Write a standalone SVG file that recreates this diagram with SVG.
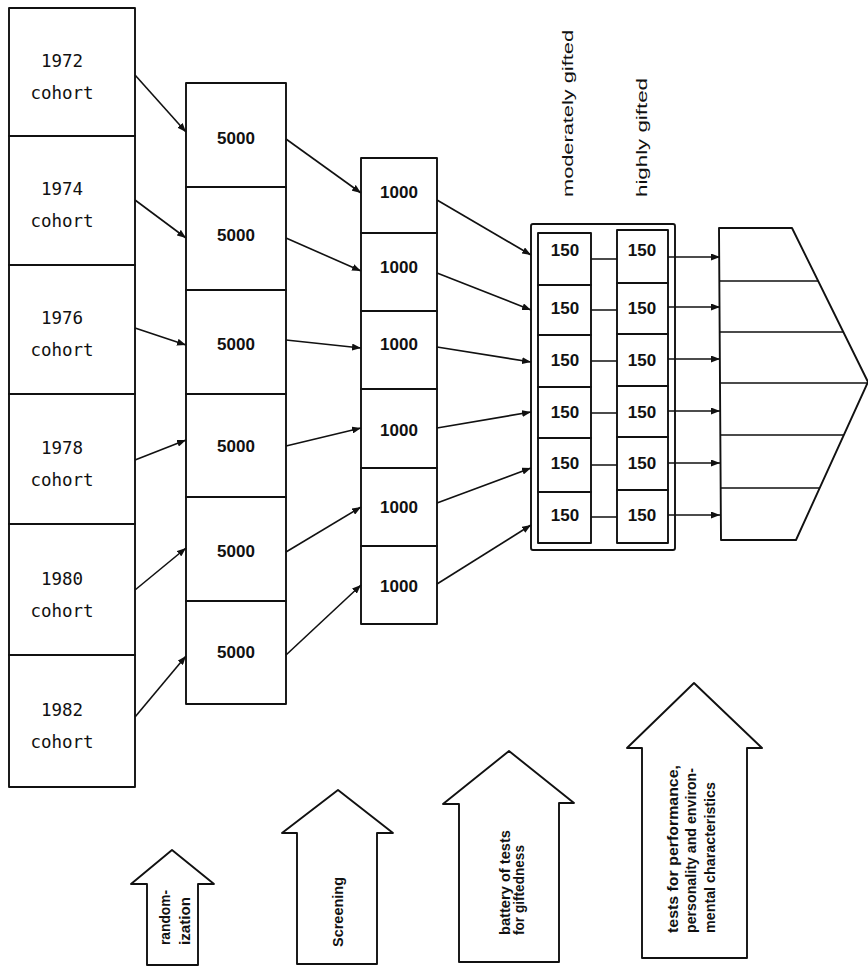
<svg xmlns="http://www.w3.org/2000/svg" width="868" height="966" viewBox="0 0 868 966">
<style>
.b{fill:#fff;stroke:#111;stroke-width:1.9;stroke-linejoin:round}
.c{stroke:#111;stroke-width:1.6;fill:none}
.coh{font-family:"DejaVu Sans Mono","Liberation Mono",monospace;font-size:17.5px;fill:#111;text-anchor:middle}
.num{font-family:"Liberation Sans",Arial,sans-serif;font-size:17px;font-weight:bold;fill:#111;text-anchor:middle}
.lab{font-family:"Liberation Sans",Arial,sans-serif;font-size:15.5px;fill:#111}
.bt{font-family:"Liberation Sans",Arial,sans-serif;font-size:14px;font-weight:bold;fill:#111}
</style>
<defs>
<marker id="ah" markerUnits="userSpaceOnUse" markerWidth="9" markerHeight="7" refX="9" refY="3.5" orient="auto">
<path d="M0,0 L9,3.5 L0,7 z" fill="#111"/>
</marker>
</defs>

<g id="cohorts">
<g id="c1972"><rect class="b" x="9" y="8" width="126" height="128"/><text class="coh" x="62" y="67">1972</text><text class="coh" x="62" y="99">cohort</text></g>
<g id="c1974"><rect class="b" x="9" y="136" width="126" height="129"/><text class="coh" x="62" y="195">1974</text><text class="coh" x="62" y="227">cohort</text></g>
<g id="c1976"><rect class="b" x="9" y="265" width="126" height="129"/><text class="coh" x="62" y="324">1976</text><text class="coh" x="62" y="356">cohort</text></g>
<g id="c1978"><rect class="b" x="9" y="394" width="126" height="130"/><text class="coh" x="62" y="454">1978</text><text class="coh" x="62" y="486">cohort</text></g>
<g id="c1980"><rect class="b" x="9" y="524" width="126" height="131"/><text class="coh" x="62" y="585">1980</text><text class="coh" x="62" y="617">cohort</text></g>
<g id="c1982"><rect class="b" x="9" y="655" width="126" height="132"/><text class="coh" x="62" y="716">1982</text><text class="coh" x="62" y="748">cohort</text></g>
</g>

<g id="screened">
<g id="s1"><rect class="b" x="186" y="83" width="100" height="104"/><text class="num" x="236" y="144">5000</text></g>
<g id="s2"><rect class="b" x="186" y="187" width="100" height="103"/><text class="num" x="236" y="241">5000</text></g>
<g id="s3"><rect class="b" x="186" y="290" width="100" height="104"/><text class="num" x="236" y="350">5000</text></g>
<g id="s4"><rect class="b" x="186" y="394" width="100" height="103"/><text class="num" x="236" y="452">5000</text></g>
<g id="s5"><rect class="b" x="186" y="497" width="100" height="104"/><text class="num" x="236" y="557">5000</text></g>
<g id="s6"><rect class="b" x="186" y="601" width="100" height="103"/><text class="num" x="236" y="658">5000</text></g>
</g>

<g id="tested">
<g id="t1"><rect class="b" x="361" y="158" width="76" height="75"/><text class="num" x="399" y="198">1000</text></g>
<g id="t2"><rect class="b" x="361" y="233" width="76" height="78"/><text class="num" x="399" y="273">1000</text></g>
<g id="t3"><rect class="b" x="361" y="311" width="76" height="78"/><text class="num" x="399" y="350">1000</text></g>
<g id="t4"><rect class="b" x="361" y="389" width="76" height="79"/><text class="num" x="399" y="436">1000</text></g>
<g id="t5"><rect class="b" x="361" y="468" width="76" height="78"/><text class="num" x="399" y="513">1000</text></g>
<g id="t6"><rect class="b" x="361" y="546" width="76" height="78"/><text class="num" x="399" y="592">1000</text></g>
</g>

<g id="gifted">
<rect class="b" x="531" y="224" width="144" height="326" rx="2"/>
<g id="moderate">
<rect class="b" x="538" y="233" width="53" height="52"/><text class="num" x="565" y="256">150</text>
<rect class="b" x="538" y="285" width="53" height="50"/><text class="num" x="565" y="314">150</text>
<rect class="b" x="538" y="335" width="53" height="52"/><text class="num" x="565" y="366">150</text>
<rect class="b" x="538" y="387" width="53" height="51"/><text class="num" x="565" y="418">150</text>
<rect class="b" x="538" y="438" width="53" height="54"/><text class="num" x="565" y="469">150</text>
<rect class="b" x="538" y="492" width="53" height="51"/><text class="num" x="565" y="521">150</text>
</g>
<g id="high">
<rect class="b" x="617" y="230" width="51" height="53"/><text class="num" x="642" y="256">150</text>
<rect class="b" x="617" y="283" width="51" height="51"/><text class="num" x="642" y="314">150</text>
<rect class="b" x="617" y="334" width="51" height="52"/><text class="num" x="642" y="366">150</text>
<rect class="b" x="617" y="386" width="51" height="51"/><text class="num" x="642" y="418">150</text>
<rect class="b" x="617" y="437" width="51" height="53"/><text class="num" x="642" y="469">150</text>
<rect class="b" x="617" y="490" width="51" height="53"/><text class="num" x="642" y="521">150</text>
</g>
</g>

<g id="labels">
<text class="lab" transform="translate(573,197) rotate(-90)" textLength="167" lengthAdjust="spacingAndGlyphs">moderately gifted</text>
<text class="lab" transform="translate(647,197) rotate(-90)" textLength="119" lengthAdjust="spacingAndGlyphs">highly gifted</text>
</g>

<g id="funnel">
<polygon class="b" points="719,228 792,228 868,382 796,540 721,540"/>
<path class="c" d="M719,281 H818 M719,332 H843 M720,383 H868 M720,435 H844 M721,488 H820"/>
</g>

<g id="connectors" class="c">
<line x1="135" y1="75" x2="186" y2="132" marker-end="url(#ah)"/>
<line x1="135" y1="200" x2="186" y2="238" marker-end="url(#ah)"/>
<line x1="135" y1="328" x2="186" y2="345" marker-end="url(#ah)"/>
<line x1="135" y1="460" x2="186" y2="440" marker-end="url(#ah)"/>
<line x1="135" y1="590" x2="186" y2="548" marker-end="url(#ah)"/>
<line x1="135" y1="717" x2="186" y2="656" marker-end="url(#ah)"/>

<line x1="286" y1="139" x2="361" y2="193" marker-end="url(#ah)"/>
<line x1="286" y1="238" x2="361" y2="271" marker-end="url(#ah)"/>
<line x1="286" y1="340" x2="361" y2="348" marker-end="url(#ah)"/>
<line x1="286" y1="446" x2="361" y2="428" marker-end="url(#ah)"/>
<line x1="286" y1="552" x2="361" y2="507" marker-end="url(#ah)"/>
<line x1="286" y1="655" x2="361" y2="585" marker-end="url(#ah)"/>

<line x1="437" y1="200" x2="531" y2="255" marker-end="url(#ah)"/>
<line x1="437" y1="273" x2="531" y2="310" marker-end="url(#ah)"/>
<line x1="437" y1="347" x2="531" y2="362" marker-end="url(#ah)"/>
<line x1="437" y1="428" x2="531" y2="412" marker-end="url(#ah)"/>
<line x1="437" y1="503" x2="531" y2="468" marker-end="url(#ah)"/>
<line x1="437" y1="584" x2="531" y2="525" marker-end="url(#ah)"/>

<path d="M591,259 H617 M591,310 H617 M591,361 H617 M591,413 H617 M591,465 H617 M591,517 H617"/>

<line x1="668" y1="257" x2="720" y2="257" marker-end="url(#ah)"/>
<line x1="668" y1="307" x2="720" y2="307" marker-end="url(#ah)"/>
<line x1="668" y1="359" x2="720" y2="359" marker-end="url(#ah)"/>
<line x1="668" y1="411" x2="720" y2="411" marker-end="url(#ah)"/>
<line x1="668" y1="463" x2="720" y2="463" marker-end="url(#ah)"/>
<line x1="668" y1="515" x2="720" y2="515" marker-end="url(#ah)"/>
</g>

<g id="step-randomization">
<polygon class="b" points="172,850 214,884 198,884 198,965 147,965 147,884 131,884"/>
<text class="bt" transform="translate(170,945) rotate(-90)" textLength="55" lengthAdjust="spacingAndGlyphs">random-</text>
<text class="bt" transform="translate(190,945) rotate(-90)" textLength="48" lengthAdjust="spacingAndGlyphs">ization</text>
</g>
<g id="step-screening">
<polygon class="b" points="338,790 393,833 377,833 377,964 297,964 297,833 282,833"/>
<text class="bt" transform="translate(343,947) rotate(-90)" textLength="70" lengthAdjust="spacingAndGlyphs">Screening</text>
</g>
<g id="step-battery">
<polygon class="b" points="509,751 574,803 559,803 559,962 459,962 459,804 443,804"/>
<text class="bt" transform="translate(510,935) rotate(-90)" textLength="105" lengthAdjust="spacingAndGlyphs">battery of tests</text>
<text class="bt" transform="translate(524,935) rotate(-90)" textLength="90" lengthAdjust="spacingAndGlyphs">for giftedness</text>
</g>
<g id="step-tests">
<polygon class="b" points="694,683 762,748 747,748 747,958 642,958 642,748 627,748"/>
<text class="bt" transform="translate(678,933) rotate(-90)" textLength="168" lengthAdjust="spacingAndGlyphs">tests for performance,</text>
<text class="bt" transform="translate(696,933) rotate(-90)" textLength="165" lengthAdjust="spacingAndGlyphs">personality and environ-</text>
<text class="bt" transform="translate(715,933) rotate(-90)" textLength="151" lengthAdjust="spacingAndGlyphs">mental characteristics</text>
</g>
</svg>
